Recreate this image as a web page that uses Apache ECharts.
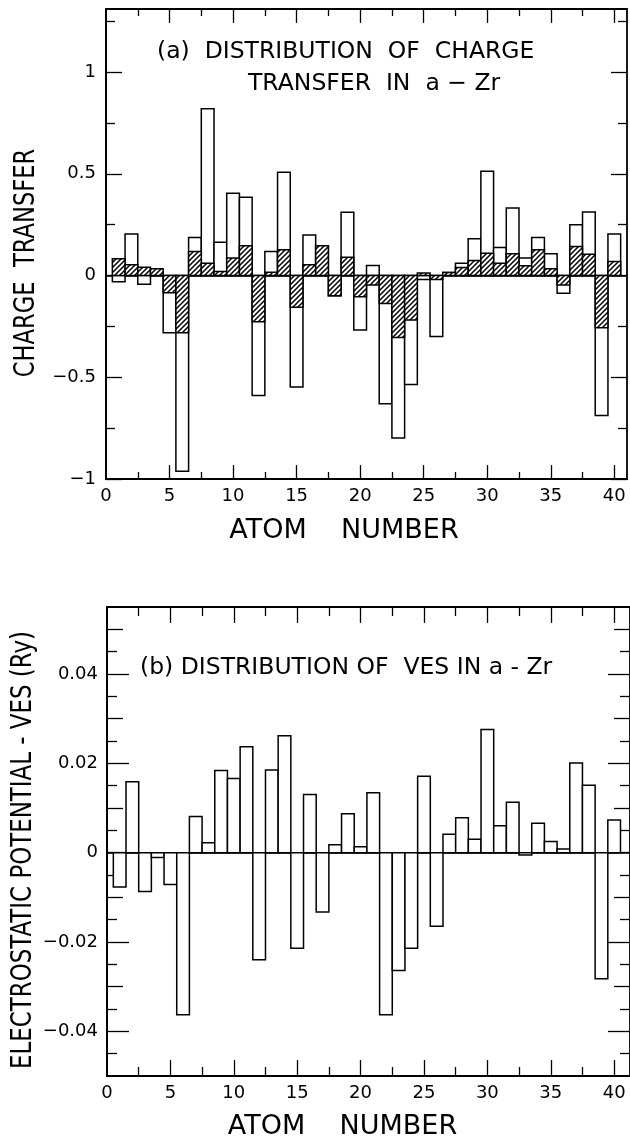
<!DOCTYPE html>
<html>
<head>
<meta charset="utf-8">
<script src="https://cdn.jsdelivr.net/npm/echarts@6/dist/echarts.min.js"></script>
<style>
html,body{margin:0;padding:0;background:#fff;}
#c{width:630px;height:1143px;}
</style>
</head>
<body>
<div id="c"></div>
<script>
// ---------------- data ----------------
const atoms = [1,2,3,4,5,6,7,8,9,10,11,12,13,14,15,16,17,18,19,20,
               21,22,23,24,25,26,27,28,29,30,31,32,33,34,35,36,37,38,39,40];

// (a) charge transfer: open bars (total) and hatched bars
const chargeOpen = [-0.03,0.204,-0.043,0.02,-0.281,-0.962,0.1875,0.82,0.164,0.405,
                    0.385,-0.589,0.118,0.508,-0.548,0.199,0.146,-0.099,0.311,-0.268,
                    0.049,-0.630,-0.798,-0.535,-0.02,-0.30,0.015,0.061,0.181,0.513,
                    0.138,0.332,0.086,0.1875,0.107,-0.087,0.25,0.3125,-0.6875,0.204];
const chargeHatched = [0.082,0.053,0.041,0.033,-0.084,-0.281,0.118,0.061,0.02,0.086,
                       0.146,-0.227,0.016,0.127,-0.156,0.053,0.146,-0.099,0.09,-0.104,
                       -0.046,-0.137,-0.304,-0.219,0.012,-0.02,0.015,0.04,0.074,0.11,
                       0.061,0.107,0.048,0.127,0.033,-0.046,0.143,0.105,-0.257,0.069];

// (b) electrostatic potential VES (Ry)
const ves = [-0.0077,0.0159,-0.0087,-0.0011,-0.0071,-0.0363,0.0081,0.0022,0.0184,0.0166,
             0.0237,-0.0240,0.0185,0.0262,-0.0214,0.0130,-0.0133,0.0018,0.0087,0.0013,
             0.0134,-0.0363,-0.0264,-0.0214,0.0171,-0.0165,0.0041,0.0078,0.0030,0.0276,
             0.0060,0.0113,-0.0005,0.0066,0.0025,0.0008,0.0201,0.0151,-0.0282,0.0073];

// tick positions / labels
const xTickLabels = [0,5,10,15,20,25,30,35,40];
const xMajorTicks = [5,10,15,20,25,30,35,40];
const xMinorTicks = [2.5,7.5,12.5,17.5,22.5,27.5,32.5,37.5];
const chargeTickLabels = [-1,-0.5,0,0.5,1];
const chargeMinorTicks = [-0.75,-0.25,0.25,0.75,1.25];
const vesTickLabels = [-0.04,-0.02,0,0.02,0.04];
const vesMidTicks = [-0.03,-0.01,0.01,0.03,0.05];
const vesMinorTicks = [-0.045,-0.035,-0.025,-0.015,-0.005,0.005,0.015,0.025,0.035,0.045];

// ---------------- style helpers ----------------
const FONT = 'DejaVu Sans';
const HALF = 0.5;

function makeHatch() {
  const s = 5;
  const c = document.createElement('canvas');
  c.width = s; c.height = s;
  const g = c.getContext('2d');
  g.fillStyle = '#fff'; g.fillRect(0,0,s,s);
  g.strokeStyle = '#000'; g.lineWidth = 1.5;
  g.beginPath();
  g.moveTo(-1, s + 1); g.lineTo(s + 1, -1);
  g.moveTo(-1, 1); g.lineTo(1, -1);
  g.moveTo(s - 1, s + 1); g.lineTo(s + 1, s - 1);
  g.stroke();
  return {image: c, repeat: 'repeat'};
}
const hatchFill = makeHatch();

function barRender(fill) {
  return function (params, api) {
    const x = api.value(0), v = api.value(1);
    const a = api.coord([x - HALF, 0]);
    const b = api.coord([x + HALF, v]);
    return {
      type: 'rect',
      shape: {x: a[0], y: Math.min(a[1], b[1]), width: b[0] - a[0], height: Math.abs(b[1] - a[1])},
      style: {fill: fill, stroke: '#000', lineWidth: 1.5}
    };
  };
}

const minusFmt = v => String(v).replace('-', '\u2212');

function ax(gridIndex, position, min, max, ticks, len, labels, lineShow, labelMargin) {
  return {
    type: 'value', gridIndex: gridIndex, position: position, min: min, max: max,
    axisLine: {show: lineShow, onZero: false, lineStyle: {color: '#000', width: 1.8}},
    axisTick: {show: true, inside: true, length: len, customValues: ticks,
               lineStyle: {color: '#000', width: 1.3}},
    axisLabel: labels ? {show: true, customValues: labels, color: '#000', formatter: minusFmt,
                         fontFamily: FONT, fontSize: 18, margin: labelMargin}
                      : {show: false},
    splitLine: {show: false},
    splitArea: {show: false}
  };
}

function zeroAxis(gridIndex, max) {
  return {
    type: 'value', gridIndex: gridIndex, position: 'bottom', min: 0, max: max,
    axisLine: {show: true, onZero: true, lineStyle: {color: '#000', width: 1.5}},
    axisTick: {show: false}, axisLabel: {show: false}, splitLine: {show: false}
  };
}

const CMIN = -1, CMAX = 1.31, VMIN = -0.05, VMAX = 0.055;
const XMAX_A = 41, XMAX_B = 41.25;

const xAxes = [
  // grid 0 (a)
  Object.assign(ax(0, 'bottom', 0, XMAX_A, xMajorTicks, 14, xTickLabels, true, 8), {
    name: 'ATOM    NUMBER', nameLocation: 'middle', nameGap: 38,
    nameTextStyle: {color: '#000', fontFamily: FONT, fontSize: 27, padding: [0, 45, 0, 0]}
  }),
  ax(0, 'bottom', 0, XMAX_A, xMinorTicks, 7, null, false),
  ax(0, 'top', 0, XMAX_A, xMajorTicks, 14, null, false),
  ax(0, 'top', 0, XMAX_A, xMinorTicks, 7, null, false),
  zeroAxis(0, XMAX_A),
  // grid 1 (b)
  Object.assign(ax(1, 'bottom', 0, XMAX_B, xMajorTicks, 16, xTickLabels, true, 8), {
    name: 'ATOM    NUMBER', nameLocation: 'middle', nameGap: 37,
    nameTextStyle: {color: '#000', fontFamily: FONT, fontSize: 27, padding: [0, 52, 0, 0]}
  }),
  ax(1, 'bottom', 0, XMAX_B, xMinorTicks, 9, null, false),
  ax(1, 'top', 0, XMAX_B, xMajorTicks, 16, null, false),
  ax(1, 'top', 0, XMAX_B, xMinorTicks, 9, null, false),
  zeroAxis(1, XMAX_B)
];

const yAxes = [
  // grid 0
  ax(0, 'left', CMIN, CMAX, chargeTickLabels, 16, chargeTickLabels, true, 10),
  ax(0, 'left', CMIN, CMAX, chargeMinorTicks, 9, null, false),
  ax(0, 'right', CMIN, CMAX, chargeTickLabels, 16, null, false),
  ax(0, 'right', CMIN, CMAX, chargeMinorTicks, 9, null, false),
  // grid 1
  ax(1, 'left', VMIN, VMAX, vesTickLabels, 22, vesTickLabels, true, 9),
  ax(1, 'left', VMIN, VMAX, vesMidTicks, 16, null, false),
  ax(1, 'left', VMIN, VMAX, vesMinorTicks, 10, null, false),
  ax(1, 'right', VMIN, VMAX, vesTickLabels, 22, null, false),
  ax(1, 'right', VMIN, VMAX, vesMidTicks, 16, null, false),
  ax(1, 'right', VMIN, VMAX, vesMinorTicks, 10, null, false)
];

const chart = echarts.init(document.getElementById('c'), null, {renderer: 'canvas'});
chart.setOption({
  animation: false,
  backgroundColor: '#fff',
  grid: [
    {left: 106, top: 9, width: 521, height: 470, show: true, borderColor: '#000', borderWidth: 1.8},
    {left: 107, top: 607, width: 527, height: 469, show: true, borderColor: '#000', borderWidth: 1.8}
  ],
  xAxis: xAxes,
  yAxis: yAxes,
  graphic: [
    {type: 'text', x: 157, y: 52, silent: true,
     style: {text: '(a)  DISTRIBUTION  OF  CHARGE', fill: '#000', fontFamily: FONT, fontSize: 23.5,
             textAlign: 'left', textVerticalAlign: 'middle'}},
    {type: 'text', x: 248, y: 84, silent: true,
     style: {text: 'TRANSFER  IN  a \u2212 Zr', fill: '#000', fontFamily: FONT, fontSize: 23.5,
             textAlign: 'left', textVerticalAlign: 'middle'}},
    {type: 'text', x: 26, y: 263, rotation: Math.PI / 2, scaleX: 0.78, silent: true,
     style: {text: 'CHARGE  TRANSFER', fill: '#000', fontFamily: FONT, fontSize: 29,
             textAlign: 'center', textVerticalAlign: 'middle'}},
    {type: 'text', x: 140, y: 668, silent: true,
     style: {text: '(b) DISTRIBUTION OF  VES IN a - Zr', fill: '#000', fontFamily: FONT, fontSize: 23.5,
             textAlign: 'left', textVerticalAlign: 'middle'}},
    {type: 'text', x: 23, y: 850, rotation: Math.PI / 2, scaleX: 0.79, silent: true,
     style: {text: 'ELECTROSTATIC POTENTIAL - VES (Ry)', fill: '#000', fontFamily: FONT, fontSize: 29,
             textAlign: 'center', textVerticalAlign: 'middle'}}
  ],
  series: [
    {type: 'custom', name: 'charge transfer', xAxisIndex: 0, yAxisIndex: 0, z: 3,
     encode: {x: 0, y: 1},
     data: atoms.map((a, i) => [a, chargeOpen[i]]),
     renderItem: barRender('#fff')},
    {type: 'custom', name: 'charge transfer (hatched)', xAxisIndex: 0, yAxisIndex: 0, z: 4,
     encode: {x: 0, y: 1},
     data: atoms.map((a, i) => [a, chargeHatched[i]]),
     renderItem: barRender(hatchFill)},
    {type: 'custom', name: 'VES', xAxisIndex: 5, yAxisIndex: 4, z: 3,
     encode: {x: 0, y: 1},
     data: atoms.map((a, i) => [a, ves[i]]),
     renderItem: barRender('#fff')}
  ]
});
</script>
</body>
</html>
